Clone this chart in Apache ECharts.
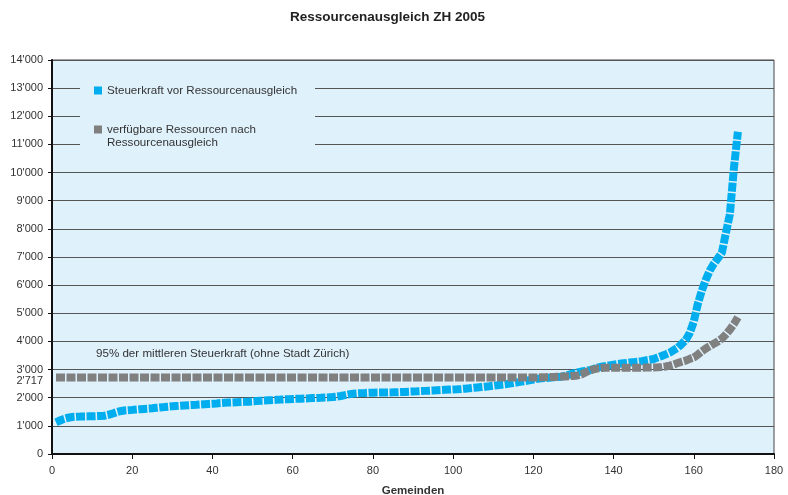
<!DOCTYPE html>
<html>
<head>
<meta charset="utf-8">
<script src="https://cdn.jsdelivr.net/npm/echarts@6/dist/echarts.min.js"></script>
<style>
  html, body { margin: 0; padding: 0; background: #ffffff; }
  #chart { width: 788px; height: 495px; }
</style>
</head>
<body>
<div id="chart"></div>
<script>
// Titles and labels
const chartTitle = 'Ressourcenausgleich ZH 2005';
const xAxisName = 'Gemeinden';
const nameSteuerkraft = 'Steuerkraft vor Ressourcenausgleich';
const nameVerfuegbar = 'verfügbare Ressourcen nach\nRessourcenausgleich';
const mindestText = '95% der mittleren Steuerkraft (ohne Stadt Zürich)';

// Axis ranges
const xMin = 0, xMax = 180, xStep = 20;
const yMin = 0, yMax = 14000, yStep = 1000;

// Minimum endowment (95% of the mean tax capacity)
const mindestausstattung = 2717;

// Tax capacity per municipality, sorted ascending (CHF per inhabitant)
const steuerkraft = [
  1126, 1190, 1250, 1290, 1315, 1326, 1330, 1335, 1338, 1340,
  1345, 1350, 1360, 1390, 1432, 1480, 1520, 1545, 1558, 1568,
  1580, 1592, 1603, 1614, 1624, 1640, 1655, 1668, 1682, 1695,
  1705, 1714, 1723, 1732, 1741, 1750, 1760, 1769, 1778, 1787,
  1798, 1810, 1820, 1827, 1833, 1840, 1847, 1853, 1860, 1870,
  1880, 1890, 1898, 1907, 1915, 1924, 1933, 1943, 1949, 1955,
  1961, 1967, 1973, 1979, 1986, 1993, 2000, 2008, 2015, 2025,
  2040, 2061, 2090, 2120, 2143, 2155, 2163, 2170, 2178, 2180,
  2182, 2184, 2186, 2188, 2190, 2193, 2200, 2207, 2214, 2221,
  2228, 2236, 2243, 2250, 2257, 2265, 2272, 2280, 2288, 2295,
  2302, 2310, 2322, 2335, 2350, 2364, 2378, 2392, 2408, 2425,
  2442, 2460, 2477, 2500, 2522, 2546, 2570, 2595, 2620, 2645,
  2668, 2690, 2702, 2713, 2724, 2736, 2747, 2780, 2820, 2868,
  2900, 2930, 2955, 2980, 3020, 3070, 3102, 3125, 3150, 3175,
  3198, 3215, 3230, 3248, 3264, 3280, 3300, 3325, 3350, 3376,
  3430, 3482, 3540, 3600, 3690, 3777, 3910, 4051, 4300, 4700,
  5330, 5800, 6200, 6520, 6760, 6950, 7150, 7850, 8520, 10150,
  11450
];

// Available resources after equalisation, same order
const verfuegbar = [
  2717, 2717, 2717, 2717, 2717, 2717, 2717, 2717, 2717, 2717,
  2717, 2717, 2717, 2717, 2717, 2717, 2717, 2717, 2717, 2717,
  2717, 2717, 2717, 2717, 2717, 2717, 2717, 2717, 2717, 2717,
  2717, 2717, 2717, 2717, 2717, 2717, 2717, 2717, 2717, 2717,
  2717, 2717, 2717, 2717, 2717, 2717, 2717, 2717, 2717, 2717,
  2717, 2717, 2717, 2717, 2717, 2717, 2717, 2717, 2717, 2717,
  2717, 2717, 2717, 2717, 2717, 2717, 2717, 2717, 2717, 2717,
  2717, 2717, 2717, 2717, 2717, 2717, 2717, 2717, 2717, 2717,
  2717, 2717, 2717, 2717, 2717, 2717, 2717, 2717, 2717, 2717,
  2717, 2717, 2717, 2717, 2717, 2717, 2717, 2717, 2717, 2717,
  2717, 2717, 2717, 2717, 2717, 2717, 2717, 2717, 2717, 2717,
  2717, 2717, 2717, 2717, 2717, 2717, 2717, 2717, 2717, 2720,
  2722, 2725, 2730, 2735, 2740, 2745, 2750, 2758, 2765, 2775,
  2790, 2830, 2900, 2960, 3010, 3040, 3055, 3062, 3067, 3067,
  3067, 3067, 3067, 3067, 3067, 3067, 3068, 3070, 3072, 3075,
  3080, 3090, 3110, 3140, 3180, 3230, 3280, 3320, 3380, 3430,
  3530, 3650, 3750, 3830, 3920, 4000, 4100, 4250, 4420, 4620,
  4860
];

// Swiss thousands separator: 14'000
function fmtCH(v) {
  return String(Math.round(v)).replace(/\B(?=(\d{3})+(?!\d))/g, "'");
}

// Rank (1..n) as x coordinate
function toPoints(values) {
  return values.map((v, i) => [i + 1, v]);
}

const FONT = 'Liberation Sans, Arial, Helvetica, sans-serif';
const TEXT = '#333333';
const PLOT_BG = '#dff1fb';
const BLUE = '#00aeef';
const GREY = '#808080';

const chart = echarts.init(document.getElementById('chart'), null, { renderer: 'canvas' });

chart.setOption({
  animation: false,
  backgroundColor: '#ffffff',
  textStyle: { fontFamily: FONT },
  title: {
    text: chartTitle,
    left: 290,
    top: 10,
    padding: 0,
    textStyle: { fontFamily: FONT, fontSize: 13.5, fontWeight: 'bold', color: '#222222' }
  },
  grid: {
    left: 52, right: 14, top: 60, bottom: 41,
    containLabel: false,
    outerBoundsMode: 'none',
    show: true,
    backgroundColor: PLOT_BG,
    borderColor: '#444444',
    borderWidth: 1
  },
  // legend panel covers the grid lines behind it
  graphic: [{
    type: 'rect',
    z: 1,
    silent: true,
    shape: { x: 80, y: 76, width: 235, height: 76 },
    style: { fill: PLOT_BG }
  }],
  legend: [
    {
      data: [nameSteuerkraft],
      left: 94, top: 84,
      padding: 0,
      itemWidth: 8, itemHeight: 8,
      icon: 'rect',
      z: 5,
      selectedMode: false,
      textStyle: { fontFamily: FONT, fontSize: 11.6, color: TEXT, lineHeight: 13 }
    },
    {
      data: [nameVerfuegbar],
      left: 94, top: 110,
      padding: 0,
      itemWidth: 8, itemHeight: 8,
      icon: 'rect',
      z: 5,
      selectedMode: false,
      // leading blank line keeps the marker level with the first text line
      formatter: name => '\n' + name,
      textStyle: { fontFamily: FONT, fontSize: 11.6, color: TEXT, lineHeight: 13 }
    }
  ],
  xAxis: {
    type: 'value',
    min: xMin, max: xMax, interval: xStep,
    name: xAxisName,
    nameLocation: 'middle',
    nameGap: 31,
    nameTextStyle: { fontFamily: FONT, fontSize: 11.5, fontWeight: 'bold', color: TEXT },
    axisLine: { show: true, onZero: false, lineStyle: { color: '#111111', width: 2 } },
    axisTick: { show: true, inside: false, length: 5, lineStyle: { color: '#111111' } },
    axisLabel: { margin: 11, fontFamily: FONT, fontSize: 11, color: TEXT },
    splitLine: { show: false }
  },
  yAxis: {
    type: 'value',
    min: yMin, max: yMax, interval: yStep,
    axisLine: { show: true, lineStyle: { color: '#111111', width: 2 } },
    axisTick: { show: true, inside: false, length: 4, lineStyle: { color: '#111111' } },
    axisLabel: { margin: 9, fontFamily: FONT, fontSize: 11, color: TEXT, formatter: v => fmtCH(v) },
    splitLine: { show: true, lineStyle: { color: '#555555', width: 1 } }
  },
  series: [
    {
      name: nameSteuerkraft,
      type: 'line',
      data: toPoints(steuerkraft),
      showSymbol: false,
      symbol: 'none',
      itemStyle: { color: BLUE },
      lineStyle: { color: BLUE, width: 8, type: [9, 1.5], cap: 'butt', join: 'bevel' },
      z: 2
    },
    {
      name: nameVerfuegbar,
      type: 'line',
      data: toPoints(verfuegbar),
      showSymbol: false,
      symbol: 'none',
      itemStyle: { color: GREY },
      lineStyle: { color: GREY, width: 8, type: [9, 1.5], cap: 'butt', join: 'bevel' },
      z: 3,
      markLine: {
        silent: true,
        symbol: ['none', 'none'],
        lineStyle: { color: 'rgba(0,0,0,0)', width: 1, type: 'solid' },
        data: [
          {
            yAxis: mindestausstattung,
            label: {
              show: true,
              position: 'start',
              distance: 9,
              offset: [0, 3],
              fontFamily: FONT, fontSize: 11, color: TEXT,
              formatter: p => fmtCH(p.value)
            }
          },
          {
            yAxis: mindestausstattung,
            label: {
              show: true,
              position: 'insideStartTop',
              distance: [44, 18],
              fontFamily: FONT, fontSize: 11.6, color: TEXT,
              formatter: () => mindestText
            }
          }
        ]
      }
    }
  ]
});
</script>
</body>
</html>
